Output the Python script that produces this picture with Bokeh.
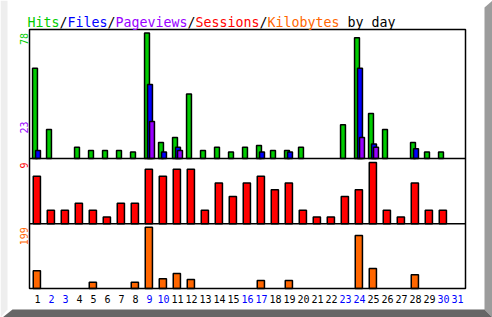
import math
from bokeh.plotting import figure
from bokeh.models import (Range1d, Label, LabelSet, ColumnDataSource,
                          PolyAnnotation, BoxAnnotation)
from bokeh.transform import dodge
from bokeh.core.properties import value
from bokeh.embed import file_html
from bokeh.resources import INLINE

# ---------------- data ----------------
days = list(range(1, 32))
day_labels = [str(d) for d in days]
weekend_days = [2, 3, 9, 10, 16, 17, 23, 24, 30, 31]

hits = [56, 18, 0, 7, 5, 5, 5, 4, 78, 10, 13, 40, 5, 7, 4, 7, 8, 5, 5, 7,
        0, 0, 21, 75, 28, 18, 0, 10, 4, 4, 0]
files = [5, 0, 0, 0, 0, 0, 0, 0, 46, 4, 7, 0, 0, 0, 0, 0, 4, 0, 4, 0,
         0, 0, 0, 56, 9, 0, 0, 6, 0, 0, 0]
pageviews = [0, 0, 0, 0, 0, 0, 0, 0, 23, 0, 5, 0, 0, 0, 0, 0, 0, 0, 0, 0,
             0, 0, 0, 13, 7, 0, 0, 0, 0, 0, 0]
sessions = [7, 2, 2, 3, 2, 1, 3, 3, 8, 7, 8, 8, 2, 6, 4, 6, 7, 5, 6, 2,
            1, 1, 4, 5, 9, 2, 1, 6, 2, 2, 0]
kilobytes = [58, 0, 0, 0, 20, 0, 0, 20, 199, 32, 49, 29, 0, 0, 0, 0, 26, 0, 26, 0,
             0, 0, 0, 172, 65, 0, 0, 45, 0, 0, 0]

# (text, colour key, number of character cells before it within the title)
title_parts = [("Hits", "hits", 0), ("/", "sep", 4), ("Files", "files", 5),
               ("/", "sep", 10), ("Pageviews", "pages", 11), ("/", "sep", 20),
               ("Sessions", "sess", 21), ("/", "sep", 29), ("Kilobytes", "kb", 30),
               ("by day", "sep", 40)]

# ---------------- style ----------------
COL = {"hits": "#00cc00", "files": "#0000ff", "pages": "#9900ff",
       "sess": "#ff0000", "kb": "#ff6600", "sep": "#000000"}
WEEKEND_COL = "#0000ff"
FONT = "DejaVu Sans Mono"

W, H = 492, 317
FL, FR, FT, FB = 29, 465, 29, 288      # chart box edges (canvas px, y from top)
DAY_PX = 14.0
X1_PX = 37.0                           # canvas x of day 1


def x_at(px):
    return 1 + (px - X1_PX) / DAY_PX


# panels: baseline (canvas px from top) and px per unit
HITS_BASE, HITS_S = 158.0, 1.61
SESS_BASE, SESS_S = 223.3, 6.81
KB_BASE, KB_S = 288.0, 0.308


def y_at(px, base, s):
    return (base - px) / s


def yr(base, s):
    return Range1d(y_at(H, base, s), y_at(0, base, s))


p = figure(width=W, height=H, x_range=Range1d(x_at(0), x_at(W)),
           y_range=yr(HITS_BASE, HITS_S),
           output_backend="svg", toolbar_location=None,
           x_axis_location=None, y_axis_location=None,
           min_border=0, min_border_left=0, min_border_right=0,
           min_border_top=0, min_border_bottom=0)
p.extra_y_ranges = {"sess": yr(SESS_BASE, SESS_S), "kb": yr(KB_BASE, KB_S)}
p.grid.visible = False
p.outline_line_color = None
p.background_fill_color = "white"
p.border_fill_color = "white"

LW = 1.5


def bars(vals, color, off_px, width_px, rng):
    src = ColumnDataSource(dict(day=[d for d, v in zip(days, vals) if v > 0],
                                val=[v for v in vals if v > 0]))
    p.vbar(x=dodge("day", off_px / DAY_PX, range=p.x_range), top="val", bottom=0,
           width=width_px / DAY_PX, fill_color=color, line_color="black",
           line_width=LW, source=src, y_range_name=rng)


bars(hits, COL["hits"], -2.5, 4.9, "default")
bars(files, COL["files"], 0.5, 4.9, "default")
bars(pageviews, COL["pages"], 2.5, 4.9, "default")
bars(sessions, COL["sess"], -0.65, 7.2, "sess")
bars(kilobytes, COL["kb"], -0.65, 7.2, "kb")

# panel separators (baselines of hits and sessions)
for rng in ["default", "sess"]:
    p.segment(x0=[x_at(FL)], x1=[x_at(FR)], y0=[0], y1=[0],
              line_color="black", line_width=LW, y_range_name=rng)

# chart box
p.add_layout(BoxAnnotation(left=x_at(FL), right=x_at(FR), bottom=0,
                           top=y_at(FT, KB_BASE, KB_S), y_range_name="kb",
                           fill_alpha=0, fill_color=None, line_color="black",
                           line_alpha=1, line_width=LW))

# max value labels (rotated)
for val, col, rng in [(max(hits), COL["hits"], "default"),
                      (max(pageviews), COL["pages"], "default"),
                      (max(sessions), COL["sess"], "sess"),
                      (max(kilobytes), COL["kb"], "kb")]:
    p.add_layout(Label(x=x_at(23), y=val, y_range_name=rng,
                       text=str(val), angle=math.pi / 2, text_align="right",
                       text_baseline="middle", text_color=col,
                       text_font=FONT, text_font_size="10px"))

# day labels
lab_src = ColumnDataSource(dict(
    day=days, zero=[0] * len(days), text=day_labels,
    color=[WEEKEND_COL if d in weekend_days else "#000000" for d in days]))
p.add_layout(LabelSet(x="day", y="zero", y_range_name="kb", text="text",
                      text_color="color", source=lab_src, text_align="center",
                      text_baseline="alphabetic", y_offset=-14.3,
                      text_font=value(FONT), text_font_size="10px"))

# title (screen units: x from left, y from bottom)
TFS = 13.3
adv = 8.0
for txt, key, cells in title_parts:
    p.add_layout(Label(x=27.0 + adv * cells, y=H - 22, x_units="screen",
                       y_units="screen", text=txt,
                       text_color=COL[key], text_font=FONT,
                       text_font_size=f"{TFS}px", text_baseline="alphabetic",
                       text_align="left"))


# 3D border strips (screen units, y from bottom)
def strip(xs, ys_top, color):
    p.add_layout(PolyAnnotation(xs=xs, ys=[H - y for y in ys_top],
                                xs_units="screen", ys_units="screen",
                                fill_color=color, fill_alpha=1, line_alpha=0))


strip([0, 7, 7, 0], [0, 0, 309, 317], "#eeeeee")
strip([484, 492, 492, 484], [7, 0, 317, 309], "#9c9c9c")
strip([12, 484, 492, 2], [309, 309, 317, 317], "#666666")

open("out.html", "w").write(file_html(p, INLINE))
